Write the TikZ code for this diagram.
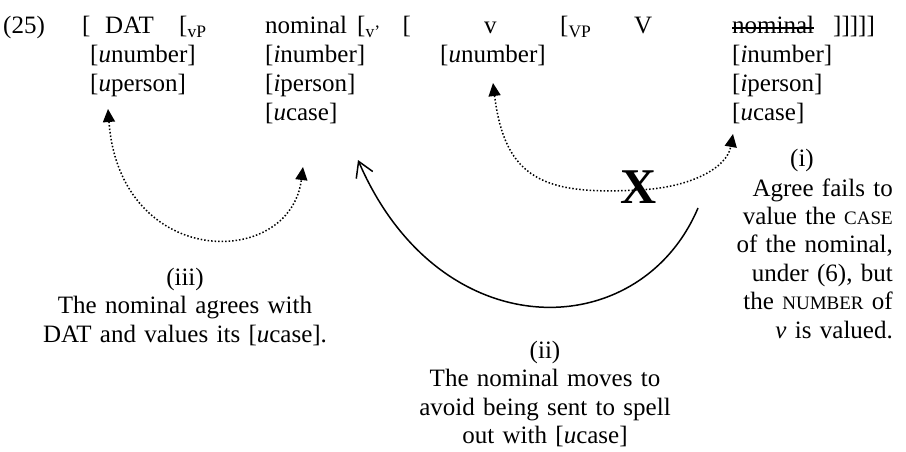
\documentclass[tikz,border=0pt]{standalone}
\usepackage{fontspec}
\setmainfont{Liberation Serif}
\usetikzlibrary{arrows.meta}
\newcommand{\fsc}[1]{{\fontsize{19}{19}\selectfont #1}}

\begin{document}
\begin{tikzpicture}[x=1pt,y=-1pt,
    word/.style={anchor=base west,inner sep=0pt,font=\fontsize{25}{29}\selectfont},
    feats/.style={word,align=left,text width=130pt},
    gloss/.style={inner sep=0pt,font=\fontsize{25}{28.5}\selectfont},
    agree/.style={dotted,line width=1.5pt,{Triangle[length=13pt,width=12pt]}-{Triangle[length=13pt,width=12pt]}},
    move/.style={line width=1.5pt,-{Straight Barb[length=15pt,width=18pt]}}]
    \useasboundingbox (0,0) rectangle (906,452);
    % the bracketed string
    \node[word] (ex) at (3,34) {(25)};
    \node[word] (ob) at (82,34) {[};
    \node[word] (dat) at (105,34) {DAT};
    \node[word] (vp) at (179,34) {[\textsubscript{vP}};
    \node[word] (nom) at (265,34) {nominal};
    \node[word] (vbar) at (357,34) {[\textsubscript{v'}\hspace{22pt}[};
    \node[word] (v) at (484,34) {v};
    \node[word] (bigvp) at (560,34) {[\textsubscript{VP}};
    \node[word] (bigv) at (634,34) {V};
    \node[word] (copy) at (732,34) {nominal};
    \node[word] (cb) at (833,34) {]]]]]};
    \draw[line width=1.3pt] ([yshift=6pt]copy.base west) -- ([yshift=6pt]copy.base east);
    % feature bundles
    \node[feats] (datf) at (90,63) {[\textit{u}number]\\{}[\textit{u}person]};
    \node[feats] (nomf) at (265,63) {[\textit{i}number]\\{}[\textit{i}person]\\{}[\textit{u}case]};
    \node[feats] (vf) at (440,63) {[\textit{u}number]};
    \node[feats] (copyf) at (732,63) {[\textit{i}number]\\{}[\textit{i}person]\\{}[\textit{u}case]};
    % explanations
    \node[gloss,anchor=base] (nri) at (802,166) {(i)};
    \node[gloss,anchor=base east,align=right,text width=170pt] (glossi) at (893,196)
      {Agree fails to\\value the \fsc{CASE}\\of the nominal,\\under (6), but\\the \fsc{NUMBER} of\\\textit{v} is valued.};
    \node[gloss,anchor=base,align=center,text width=300pt] (glossiii) at (185,285)
      {(iii)\\The nominal agrees with\\DAT and values its [\textit{u}case].};
    \node[gloss,anchor=base,align=center,text width=300pt] (glossii) at (545,358)
      {(ii)\\The nominal moves to\\avoid being sent to spell\\out with [\textit{u}case]};
    % arrows
    \coordinate (a1) at (108,109);
    \coordinate (a2) at (303,167);
    \draw[agree] (a1) .. controls (120,270) and (290,270) .. (a2);
    \coordinate (b1) at (493,83);
    \coordinate (b2) at (733,134);
    \draw[agree] (b1) .. controls (505,180) and (545,195) .. (638,190) .. controls (690,188) and (727,168) .. (b2);
    \node[inner sep=0pt,font=\fontsize{50}{50}\selectfont\bfseries] (x) at (639,187) {X};
    \coordinate (c1) at (698,208);
    \coordinate (c2) at (358,160);
    \draw[move] (c1) .. controls (640,345) and (440,350) .. (c2);
\end{tikzpicture}
\end{document}
